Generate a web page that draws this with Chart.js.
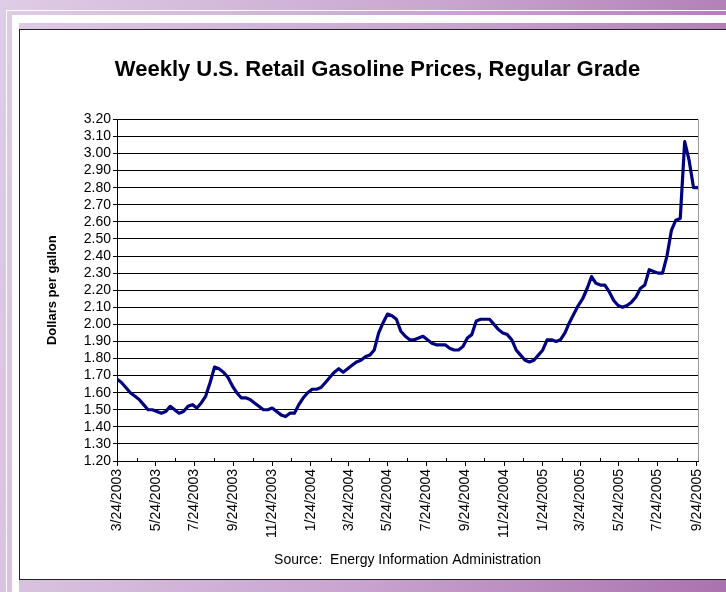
<!DOCTYPE html>
<html>
<head>
<meta charset="utf-8">
<script src="https://cdn.jsdelivr.net/npm/chart.js@4.4.1/dist/chart.umd.min.js"></script>
<style>
  html, body { margin: 0; padding: 0; }
  body {
    width: 726px; height: 592px; overflow: hidden; position: relative;
    background: linear-gradient(100deg, #dfcce6 0%, #c8a5ce 55%, #ab72b0 100%);
  }
  .thin { position: absolute; left: 6px; top: 10px; right: -10px; bottom: -10px;
    border-left: 1.5px solid #fff; border-top: 1.5px solid #fff; }
  .band { position: absolute; left: 12px; top: 15px; right: -10px; bottom: -10px;
    border-left: 7px solid #fff; border-top: 8px solid #fff; }
  #panel { position: absolute; left: 19px; top: 29px; width: 730px; height: 549px;
    background: #fff; border: 1px solid #222; border-right: none; }
  #panel canvas { position: absolute; left: 0; top: 0; }
</style>
</head>
<body>
<div class="thin"></div>
<div class="band"></div>
<div id="panel"><canvas id="gasChart" width="706" height="549"></canvas></div>
<script>
// weekly prices, first week is 3/24/2003
var prices2003 = [1.68, 1.66, 1.63, 1.60, 1.58, 1.56, 1.53, 1.50, 1.50, 1.49,
                  1.48, 1.49, 1.52, 1.50, 1.48, 1.49, 1.52, 1.53, 1.51, 1.54,
                  1.58, 1.66, 1.75, 1.74, 1.72, 1.69, 1.64, 1.60, 1.57, 1.57,
                  1.56, 1.54, 1.52, 1.50, 1.50, 1.51, 1.49, 1.47, 1.46, 1.48,
                  1.48];
var prices2004 = [1.53, 1.57, 1.60, 1.62, 1.62, 1.63, 1.66, 1.69, 1.72,
                  1.74, 1.72, 1.74, 1.76, 1.78, 1.79, 1.81, 1.82, 1.85, 1.95,
                  2.01, 2.06, 2.05, 2.03, 1.96, 1.93, 1.91, 1.91, 1.92, 1.93,
                  1.91, 1.89, 1.88, 1.88, 1.88, 1.86, 1.85, 1.85, 1.87, 1.92,
                  1.94, 2.02, 2.03, 2.03, 2.03, 2.00, 1.97, 1.95, 1.94, 1.91,
                  1.85, 1.82, 1.79];
var prices2005 = [1.78, 1.79, 1.82, 1.85, 1.91, 1.91, 1.90,
                  1.91, 1.95, 2.01, 2.06, 2.11, 2.15, 2.21, 2.28, 2.24, 2.23,
                  2.23, 2.19, 2.14, 2.11, 2.10, 2.11, 2.13, 2.16, 2.21, 2.23,
                  2.32, 2.31, 2.30, 2.30, 2.40, 2.55, 2.61, 2.62, 3.07, 2.96,
                  2.80, 2.80];
var prices = prices2003.concat(prices2004, prices2005);

var tickLabels = ['3/24/2003', '5/24/2003', '7/24/2003', '9/24/2003', '11/24/2003',
                  '1/24/2004', '3/24/2004', '5/24/2004', '7/24/2004', '9/24/2004',
                  '11/24/2004', '1/24/2005', '3/24/2005', '5/24/2005', '7/24/2005',
                  '9/24/2005'];

var DAY = 86400000;
var startDate = Date.UTC(2003, 2, 24);

function dayOf(label) {
    var p = label.split('/');
    return Math.round((Date.UTC(+p[2], +p[0] - 1, +p[1]) - startDate) / DAY);
}

var majorDays = tickLabels.map(dayOf);
// one minor tick each month between the labelled ones
var minorDays = [];
tickLabels.slice(0, -1).forEach(function (l) {
    var p = l.split('/');
    minorDays.push(Math.round((Date.UTC(+p[2], +p[0], 24) - startDate) / DAY));
});

var points = prices.map(function (v, i) { return { x: i * 7, y: v }; });

var extras = {
    id: 'extras',
    beforeDatasetsDraw: function (chart) {
        var ctx = chart.ctx, a = chart.chartArea, x = chart.scales.x;
        ctx.save();
        ctx.lineWidth = 1;
        ctx.strokeStyle = '#9a9a9a';
        ctx.beginPath();
        ctx.moveTo(Math.round(a.right) + 0.5, a.top);
        ctx.lineTo(Math.round(a.right) + 0.5, a.bottom);
        ctx.stroke();
        ctx.strokeStyle = '#000';
        minorDays.forEach(function (d) {
            var px = Math.round(x.getPixelForValue(d)) + 0.5;
            ctx.beginPath();
            ctx.moveTo(px, a.bottom);
            ctx.lineTo(px, a.bottom - 3);
            ctx.stroke();
        });
        ctx.restore();
    }
};

Chart.defaults.font.family = '"Liberation Sans", Arial, sans-serif';
Chart.defaults.color = '#000';

var ctx = document.getElementById('gasChart').getContext('2d');
var myChart = new Chart(ctx, {
    type: 'line',
    data: {
        datasets: [{
            label: 'Regular Grade',
            data: points,
            borderColor: '#000080',
            borderWidth: 3.2,
            borderJoinStyle: 'round',
            pointRadius: 0,
            tension: 0,
            fill: false
        }]
    },
    plugins: [extras],
    options: {
        responsive: false,
        animation: false,
        layout: {
            padding: { left: 9, right: 0, top: 0, bottom: 0 }
        },
        scales: {
            x: {
                type: 'linear',
                min: 0,
                max: 917,
                afterBuildTicks: function (s) {
                    s.ticks = majorDays.map(function (d) { return { value: d }; });
                },
                afterFit: function (s) { s.height = 118; },
                ticks: {
                    autoSkip: false,
                    minRotation: 90,
                    maxRotation: 90,
                    padding: 3,
                    font: { size: 14 },
                    callback: function (v, i) { return tickLabels[i]; }
                },
                grid: { drawOnChartArea: false, tickLength: 5, color: '#000' },
                border: { color: '#000' },
                title: {
                    display: true,
                    text: 'Source:  Energy Information Administration',
                    font: { size: 14 },
                    padding: { top: 0, bottom: 10 }
                }
            },
            y: {
                min: 1.2,
                max: 3.2,
                afterFit: function (s) { s.width = 88; },
                ticks: {
                    stepSize: 0.1,
                    autoSkip: false,
                    maxTicksLimit: 30,
                    padding: 2,
                    font: { size: 14 },
                    callback: function (v) { return v.toFixed(2); }
                },
                grid: { color: '#000', tickLength: 4 },
                border: { color: '#000' },
                title: {
                    display: true,
                    text: 'Dollars per gallon',
                    font: { size: 13, weight: 'bold' },
                    padding: { top: 16, bottom: 0 }
                }
            },
            // empty strip on the right, keeps the plot clear of the panel edge
            yRight: {
                position: 'right',
                min: 1.2,
                max: 3.2,
                afterFit: function (s) { s.width = 28; },
                ticks: { display: false },
                grid: { display: false },
                border: { display: false }
            }
        },
        plugins: {
            legend: { display: false },
            tooltip: { enabled: false },
            title: {
                display: true,
                text: 'Weekly U.S. Retail Gasoline Prices, Regular Grade',
                font: { size: 22, weight: 'bold' },
                padding: { top: 27, bottom: 36 }
            }
        }
    }
});
</script>
</body>
</html>
